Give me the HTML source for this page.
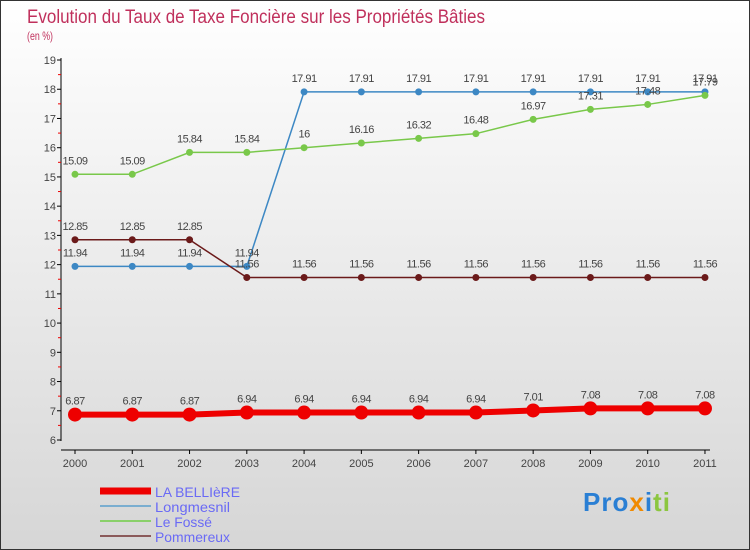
<!DOCTYPE html>
<html><head><meta charset="utf-8"><style>
body{margin:0;width:750px;height:550px;overflow:hidden}
svg{display:block;font-family:"Liberation Sans",sans-serif}
</style></head><body>
<svg width="750" height="550">
<defs><linearGradient id="bg" x1="0" y1="0" x2="0" y2="1"><stop offset="0" stop-color="#ffffff"/><stop offset="1" stop-color="#d6d6d6"/></linearGradient></defs>
<rect x="0.5" y="0.5" width="749" height="549" fill="url(#bg)" stroke="#333"/>
<text x="27" y="23" font-size="19" fill="#c0305c" textLength="458" lengthAdjust="spacingAndGlyphs">Evolution du Taux de Taxe Foncière sur les Propriétés Bâties</text>
<text x="27" y="40" font-size="12" fill="#c0305c" textLength="26" lengthAdjust="spacingAndGlyphs">(en %)</text>
<g id="axes"></g><g id="series"></g><g id="legend"></g>
</svg>
<script>
const years=["2000","2001","2002","2003","2004","2005","2006","2007","2008","2009","2010","2011"];
const labellieres=[6.87,6.87,6.87,6.94,6.94,6.94,6.94,6.94,7.01,7.08,7.08,7.08];
const longmesnil=[11.94,11.94,11.94,11.94,17.91,17.91,17.91,17.91,17.91,17.91,17.91,17.91];
const lefosse=[15.09,15.09,15.84,15.84,16,16.16,16.32,16.48,16.97,17.31,17.48,17.79];
const pommereux=[12.85,12.85,12.85,11.56,11.56,11.56,11.56,11.56,11.56,11.56,11.56,11.56];
const yTicks=[6,7,8,9,10,11,12,13,14,15,16,17,18,19];
const NS="http://www.w3.org/2000/svg";
const xs=i=>75+i*57.27, ys=v=>440-(v-6)*29.23;
function mk(t,a,p){const e=document.createElementNS(NS,t);for(const k in a)e.setAttribute(k,a[k]);p.appendChild(e);return e;}
const ax=document.getElementById('axes');
const yl=mk('line',{x1:61,y1:58,x2:61,y2:441,stroke:'#000'},ax);


const xl=mk('line',{x1:61,y1:450,x2:710,y2:450,stroke:'#000'},ax);


yTicks.forEach(v=>{
 mk('line',{x1:57,x2:61,y1:ys(v),y2:ys(v),stroke:'#000'},ax);
 if(v<19)mk('line',{x1:58,x2:61,y1:ys(v+0.5),y2:ys(v+0.5),stroke:'#e00'},ax);
 const t=mk('text',{x:56,y:ys(v)+4,'font-size':11,fill:'#444','text-anchor':'end'},ax);t.textContent=v;
 
 
});
years.forEach((y,i)=>{
 mk('line',{x1:xs(i),x2:xs(i),y1:450,y2:454,stroke:'#000'},ax);
 const t=mk('text',{x:xs(i),y:467,'font-size':11,fill:'#444','text-anchor':'middle'},ax);t.textContent=y;
 
 
});
const sg=document.getElementById('series');
function draw(vals,color,w,r,name){
 const g=mk('g',{},sg);
 
 
 mk('polyline',{points:vals.map((v,i)=>xs(i)+','+ys(v)).join(' '),fill:'none',stroke:color,'stroke-width':w},g);
 vals.forEach((v,i)=>{
  const c=mk('circle',{cx:xs(i),cy:ys(v),r:r,fill:color},g);
  
  
  const t=mk('text',{x:xs(i),y:ys(v)-10,'font-size':11,fill:'#444','text-anchor':'middle','letter-spacing':'-0.5'},g);t.textContent=v;
 });
}
draw(longmesnil,'#3d88c4',1.5,3.5,'series-longmesnil');
draw(lefosse,'#79c84a',1.5,3.5,'series-le-fosse');
draw(pommereux,'#6b1a1a',1.5,3.5,'series-pommereux');
draw(labellieres,'#ee0000',6,7,'series-la-belliere');
const lg=document.getElementById('legend');
const items=[["LA BELLIèRE","#ee0000",7,85],["Longmesnil","#7aaed0",2,75],["Le Fossé","#8ad06a",2,57],["Pommereux","#8b5a5a",2,75]];
items.forEach((it,i)=>{
 const y=491+i*15;
 const g=mk('g',{},lg);
 
 
 mk('line',{x1:100,x2:151,y1:y,y2:y,stroke:it[1],'stroke-width':it[2]},g);
 const t=mk('text',{x:155,y:y+6,'font-size':14,fill:'#6a6af5',textLength:it[3],lengthAdjust:'spacingAndGlyphs'},g);t.textContent=it[0];
});
</script>
<div style="position:absolute;left:583px;top:487px;font:bold 26px 'Liberation Sans',sans-serif;letter-spacing:1px"><span style="color:#2a7fd4">Pro</span><span style="color:#f08a00">x</span><span style="color:#2a7fd4">i</span><span style="color:#8cc63f">ti</span></div>
</body></html>
